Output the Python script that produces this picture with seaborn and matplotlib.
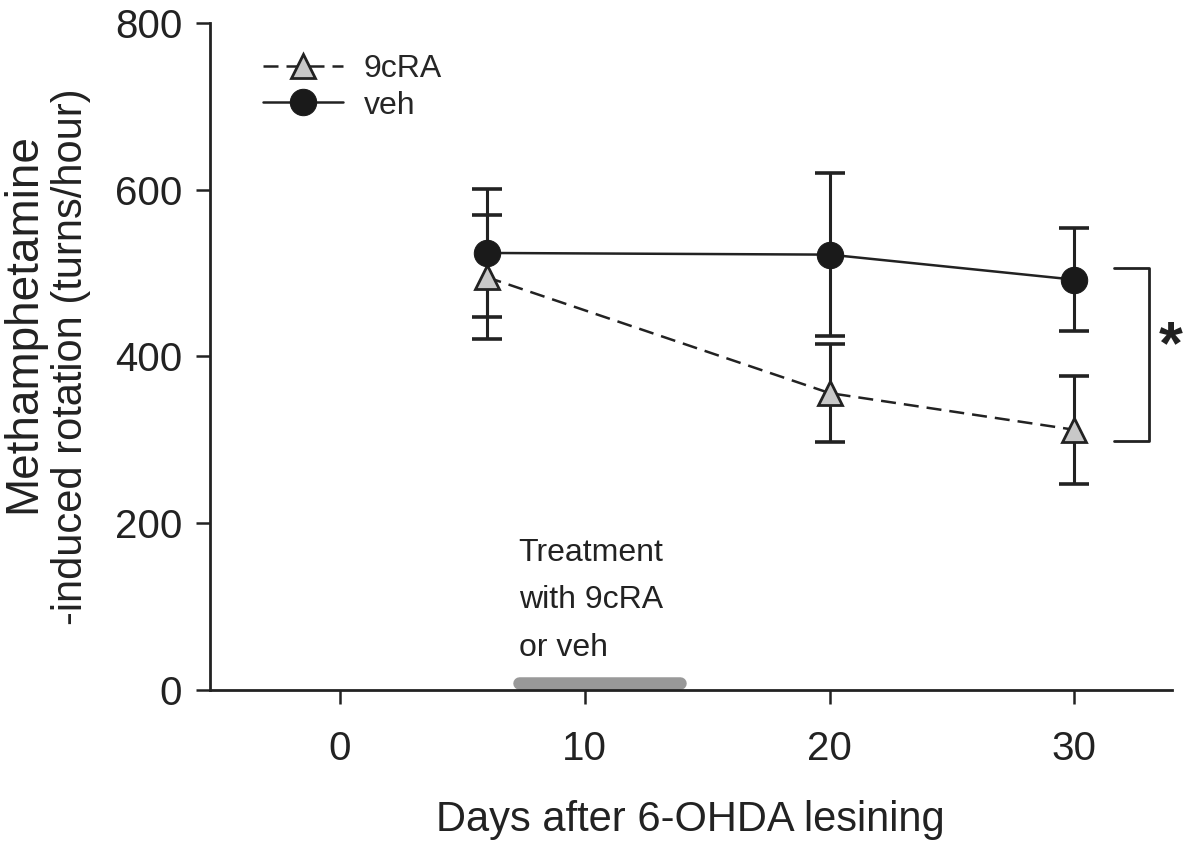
import numpy as np
import pandas as pd
import seaborn as sns
import matplotlib.pyplot as plt

# Values (mean +/- SE)
days = [6, 20, 30]
veh_mean = [524, 522, 492]
veh_se = [77, 98, 62]
cra_mean = [495, 356, 312]
cra_se = [74, 59, 65]

# significance bracket (y range) and treatment period (days)
bracket_y = [299, 506]
treat_days = [7.3, 13.9]

sns.set_theme(style="ticks")
plt.rcParams['font.family'] = ['Liberation Sans', 'DejaVu Sans']

df = pd.DataFrame({
    'day': days * 2,
    'rotation': cra_mean + veh_mean,
    'group': ['9cRA'] * 3 + ['veh'] * 3,
})

fig = plt.figure(figsize=(12, 8.43), dpi=100)
ax = fig.add_axes([0.175, 0.1815, 0.802, 0.7915])

# error bars first so markers sit on top
ax.errorbar(days, cra_mean, yerr=cra_se, fmt='none', ecolor='#222222',
            elinewidth=2.2, capsize=11, capthick=2.6, zorder=2)
ax.errorbar(days, veh_mean, yerr=veh_se, fmt='none', ecolor='#222222',
            elinewidth=2.2, capsize=11, capthick=2.6, zorder=2)

sns.lineplot(data=df[df.group == '9cRA'], x='day', y='rotation', ax=ax,
             color='#222222', lw=1.8, linestyle=(0, (6, 3.2)), marker='^',
             markersize=17, markerfacecolor='#c8c8c8', markeredgecolor='#222222',
             markeredgewidth=2, label='9cRA', zorder=3)
sns.lineplot(data=df[df.group == 'veh'], x='day', y='rotation', ax=ax,
             color='#222222', lw=1.8, marker='o', markersize=19,
             markerfacecolor='#1a1a1a', markeredgecolor='#1a1a1a',
             label='veh', zorder=4)

# significance bracket
bx0, bx1 = 31.6, 33.05
ax.plot([bx0, bx1, bx1, bx0], [bracket_y[1], bracket_y[1], bracket_y[0], bracket_y[0]],
        color='#222222', lw=2, clip_on=False)
ax.text(33.95, np.mean(bracket_y) + 8, '*', fontsize=44, fontweight='bold',
        ha='center', va='center', color='#222222')

# treatment period bar and label
ax.plot(treat_days, [8.4, 8.4], color='#999999', lw=9, solid_capstyle='round', zorder=1)
ax.text(7.3, 182, 'Treatment\nwith 9cRA\nor veh', fontsize=23, va='top',
        ha='left', color='#222222', linespacing=1.75)

ax.set_xlim(-5.3, 34.0)
ax.set_ylim(0, 800)
ax.set_xticks([0, 10, 20, 30])
ax.set_yticks([0, 200, 400, 600, 800])
ax.tick_params(axis='both', labelsize=29, length=10, width=1.8, color='#222222',
               labelcolor='#222222')
ax.tick_params(axis='x', pad=19)
ax.tick_params(axis='y', pad=10)
ax.set_xlabel('Days after 6-OHDA lesining', fontsize=30, color='#222222')
ax.xaxis.set_label_coords(0.499, -0.165)

# two-line y label: second line is the axis label, first line sits beside it
ax.set_ylabel('-induced rotation (turns/hour)', fontsize=30, color='#222222',
              va='baseline')
ax.yaxis.set_label_coords(-0.133, 0.499)
ax.text(-0.182, 0.55, 'Methamphetamine', transform=ax.transAxes, fontsize=33,
        rotation=90, rotation_mode='anchor', ha='center', va='baseline',
        color='#222222')

for s in ['left', 'bottom']:
    ax.spines[s].set_linewidth(2)
    ax.spines[s].set_color('#222222')
sns.despine(ax=ax)

leg = ax.legend(loc='upper left', bbox_to_anchor=(0.055, 0.953), frameon=False,
                fontsize=23, handlelength=2.5, handletextpad=0.65, labelspacing=0.2,
                borderpad=0, borderaxespad=0)

fig.savefig('out.png', dpi=100)
